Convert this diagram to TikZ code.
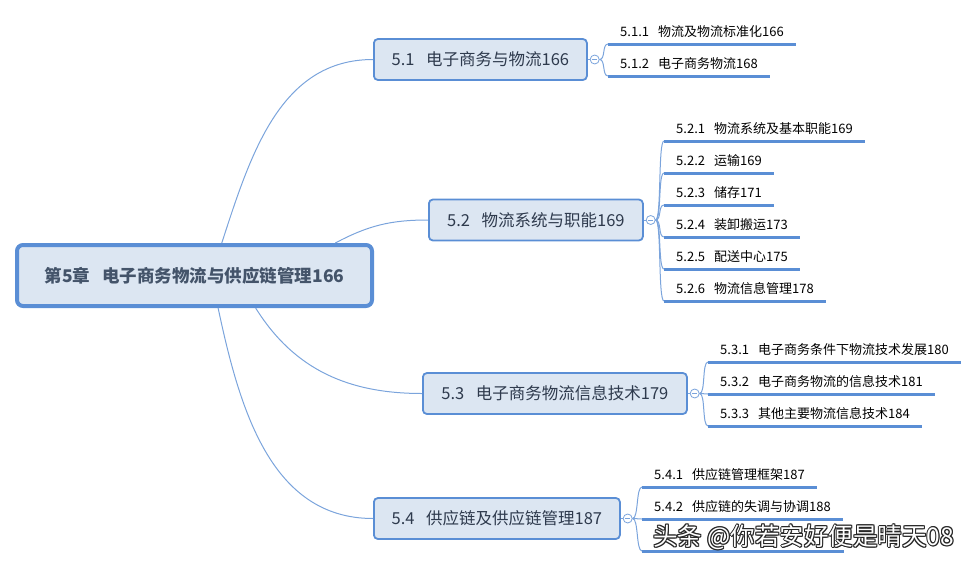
\documentclass[tikz,border=0pt]{standalone}
\usepackage{fontspec}
\setmainfont{Noto Sans CJK SC}
\usetikzlibrary{positioning}
\definecolor{garisbiru}{HTML}{5A8ED5}
\definecolor{isibiru}{HTML}{DCE6F2}
\definecolor{talibiru}{HTML}{7BA4DC}
\definecolor{teksgelap}{HTML}{2E3A4D}
\definecolor{teksakar}{HTML}{44546A}
\newcommand{\jeda}{\hspace{0.7em}}

\begin{document}
\begin{tikzpicture}[x=1pt,y=-1pt,
      akar/.style={draw=garisbiru,line width=4pt,fill=isibiru,rounded corners=6pt,
        minimum width=355pt,minimum height=61pt,text=teksakar,
        font=\fontsize{17.5}{20}\selectfont\bfseries},
      bab/.style={draw=garisbiru,line width=1.8pt,fill=isibiru,rounded corners=4pt,
        minimum height=41pt,inner xsep=15pt,anchor=west,text=teksgelap,
        font=\fontsize{16.5}{20}\selectfont},
      bulat/.style={draw=talibiru,fill=white,circle,inner sep=0pt,minimum size=9pt,line width=0.8pt,
        path picture={\draw[talibiru,line width=0.8pt]
          ([xshift=-2.6pt]path picture bounding box.center) -- ([xshift=2.6pt]path picture bounding box.center);}},
      anak/.style={anchor=south west,inner xsep=12pt,inner ysep=4pt,text height=10pt,text depth=3pt,
        font=\fontsize{13}{15}\selectfont},
      tali/.style={draw=talibiru,line width=1pt},
      garis/.style={draw=garisbiru,line width=3pt},
      tanda/.style={anchor=west,inner sep=0pt,font=\fontsize{24.5}{28}\selectfont}]
    \useasboundingbox (0,0) rectangle (980,568);
    % Simpul akar
    \node[akar] (root) at (194.5,275.5) {第5章\jeda 电子商务物流与供应链管理166};
    % Cabang tingkat satu
    \node[bab,minimum width=213pt] (s1) at (373,59.5) {5.1\jeda 电子商务与物流166};
    \node[bab,minimum width=214pt] (s2) at (428,220) {5.2\jeda 物流系统与职能169};
    \node[bab,minimum width=264pt] (s3) at (422,393.5) {5.3\jeda 电子商务物流信息技术179};
    \node[bab,minimum width=246pt] (s4) at (373,518.5) {5.4\jeda 供应链及供应链管理187};
    \node[bulat,right=2pt of s1] (c1) {};
    \node[bulat,right=2pt of s2] (c2) {};
    \node[bulat,right=2pt of s3] (c3) {};
    \node[bulat,right=2pt of s4] (c4) {};
    \draw[tali] (root.50) to[out=72,in=180] (s1.west);
    \draw[tali] (root.13) to[out=28,in=180] (s2.west);
    \draw[tali] (root.-28) to[out=-58,in=180] (s3.west);
    \draw[tali] (root.-54) to[out=-78,in=180] (s4.west);
    \draw[tali] (s1.east) -- (c1.west) (s2.east) -- (c2.west)
          (s3.east) -- (c3.west) (s4.east) -- (c4.west);
    % Anak 5.1
    \node[anak] (k11) at (608,44) {5.1.1\jeda 物流及物流标准化166};
    \node[anak] (k12) at (608,76) {5.1.2\jeda 电子商务物流168};
    % Anak 5.2
    \node[anak] (k21) at (664,141) {5.2.1\jeda 物流系统及基本职能169};
    \node[anak] (k22) at (664,173) {5.2.2\jeda 运输169};
    \node[anak] (k23) at (664,205) {5.2.3\jeda 储存171};
    \node[anak] (k24) at (664,237) {5.2.4\jeda 装卸搬运173};
    \node[anak] (k25) at (664,269) {5.2.5\jeda 配送中心175};
    \node[anak] (k26) at (664,301) {5.2.6\jeda 物流信息管理178};
    % Anak 5.3
    \node[anak] (k31) at (708,362) {5.3.1\jeda 电子商务条件下物流技术发展180};
    \node[anak] (k32) at (708,394) {5.3.2\jeda 电子商务物流的信息技术181};
    \node[anak] (k33) at (708,426) {5.3.3\jeda 其他主要物流信息技术184};
    % Anak 5.4 (yang ketiga tertutup tanda air)
    \node[anak] (k41) at (642,487) {5.4.1\jeda 供应链管理框架187};
    \node[anak] (k42) at (642,519) {5.4.2\jeda 供应链的失调与协调188};
    \node[anak,minimum width=202pt] (k43) at (642,551) {};
    \foreach \k in {k11,k12}
      \draw[tali] (c1.east) .. controls +(6,0) and +(-6,0) .. (\k.south west);
    \foreach \k in {k21,k22,k23,k24,k25,k26}
      \draw[tali] (c2.east) .. controls +(6,0) and +(-6,0) .. (\k.south west);
    \foreach \k in {k31,k32,k33}
      \draw[tali] (c3.east) .. controls +(6,0) and +(-6,0) .. (\k.south west);
    \foreach \k in {k41,k42,k43}
      \draw[tali] (c4.east) .. controls +(6,0) and +(-6,0) .. (\k.south west);
    \foreach \k in {k11,k12,k21,k22,k23,k24,k25,k26,k31,k32,k33,k41,k42,k43}
      \draw[garis] (\k.south west) -- (\k.south east);
    % Tanda air
    \foreach \dx/\dy in {-1/0,1/0,0/-1,0/1,-0.8/-0.8,0.8/0.8,-0.8/0.8,0.8/-0.8}
      \node[tanda,text=black!85] at (653+\dx,537+\dy) {头条 @你若安好便是晴天08};
    \node[tanda,text=white] (wm) at (653,537) {头条 @你若安好便是晴天08};
  \end{tikzpicture}
\end{document}
